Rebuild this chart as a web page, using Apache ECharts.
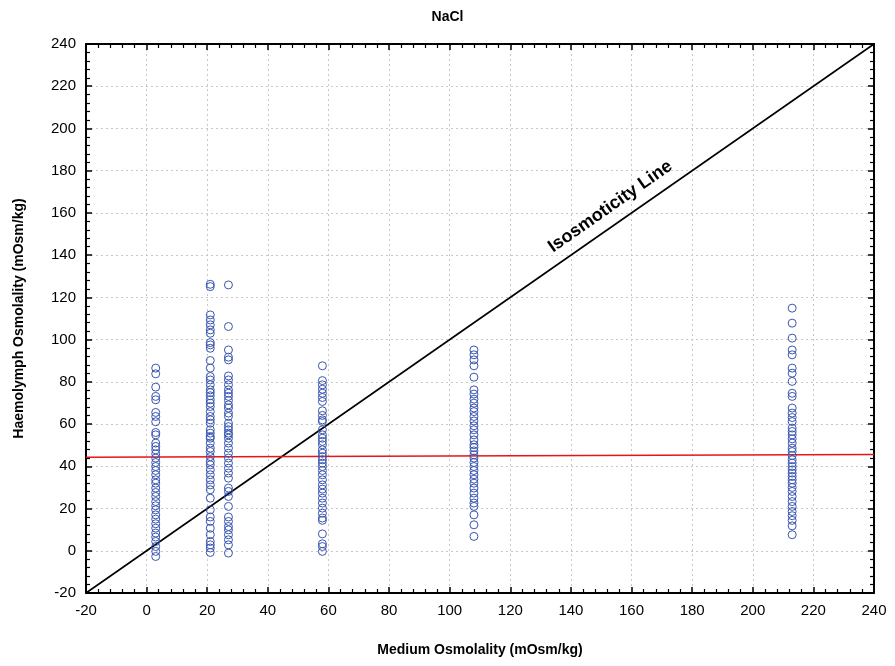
<!DOCTYPE html>
<html>
<head>
<meta charset="utf-8">
<script src="https://cdn.jsdelivr.net/npm/echarts@6/dist/echarts.min.js"></script>
<style>html,body{margin:0;padding:0;background:#fff;}#c{width:895px;height:666px;}</style>
</head>
<body>
<div id="c"></div>
<script>
// Medium osmolality columns (x) and haemolymph values (y)
const mediumX = [3, 21, 27, 58, 108, 213];
const col3 = [86.5, 83.8, 77.5, 73.1, 71.5, 65.5, 63.6, 61.1, 56.0, 54.9, 51.0, 49.4, 47.8, 45.9, 43.9, 41.8, 39.9, 38.0, 36.0, 33.6, 32.0, 29.7, 27.6, 25.7, 23.3, 21.3, 19.4, 17.0, 15.0, 12.8, 10.7, 8.4, 6.5, 4.4, 2.0, -0.3, -2.7];
const col21 = [126.2, 125.1, 111.7, 109.3, 107.0, 104.6, 103.0, 98.6, 97.5, 95.9, 90.1, 86.5, 82.5, 80.9, 78.6, 76.2, 74.9, 73.4, 71.5, 69.9, 68.3, 65.9, 63.6, 62.0, 60.4, 57.3, 55.7, 54.1, 53.3, 51.0, 48.6, 47.0, 44.6, 42.3, 40.7, 38.3, 36.0, 33.6, 31.2, 28.9, 24.9, 19.4, 16.0, 13.9, 10.7, 7.6, 4.4, 2.8, 1.3, -0.8];
const col27 = [125.9, 106.2, 95.1, 91.7, 90.4, 82.8, 80.9, 78.6, 76.2, 74.6, 73.1, 71.2, 69.1, 67.6, 65.2, 63.6, 60.4, 58.8, 57.3, 55.7, 54.9, 53.3, 51.0, 48.6, 46.2, 43.9, 41.5, 39.1, 36.8, 34.4, 29.7, 28.1, 25.7, 21.0, 16.0, 13.9, 11.5, 9.9, 7.6, 5.2, 2.8, -1.1];
const col58 = [87.6, 80.6, 78.6, 76.5, 74.6, 72.6, 70.7, 66.3, 64.1, 62.0, 61.2, 57.3, 54.9, 53.3, 51.8, 50.2, 47.8, 46.2, 44.6, 43.1, 41.5, 39.9, 38.0, 36.0, 33.6, 31.2, 29.2, 27.3, 24.9, 22.6, 20.2, 17.8, 15.5, 14.4, 8.0, 3.3, 2.0, -0.3];
const col108 = [95.1, 92.8, 90.4, 87.6, 82.2, 76.2, 74.2, 71.8, 69.9, 67.6, 65.9, 63.6, 61.5, 59.2, 57.3, 54.9, 52.5, 50.2, 48.9, 47.3, 45.4, 43.9, 41.8, 39.9, 38.0, 36.0, 33.9, 32.0, 29.7, 27.3, 24.9, 22.6, 21.0, 17.0, 12.3, 6.8];
const col213 = [114.9, 107.8, 100.7, 95.1, 92.8, 86.5, 84.1, 80.2, 74.6, 73.1, 67.6, 65.2, 63.1, 61.2, 58.1, 56.5, 54.9, 53.0, 51.0, 48.6, 47.0, 45.1, 43.1, 41.5, 39.9, 38.3, 36.8, 35.2, 33.6, 32.0, 30.0, 28.1, 25.7, 23.3, 21.0, 18.6, 16.6, 14.4, 11.8, 7.6];
const columns = [col3, col21, col27, col58, col108, col213];
const isoLine = [[-20, -20], [240, 240]];
const regLine = [[-20, 44.3], [240, 45.6]];
const isoLabelPos = [[153, 163]];
const isoLabelText = 'Isosmoticity Line';
const xTitle = 'Medium Osmolality (mOsm/kg)';
const yTitle = 'Haemolymph Osmolality (mOsm/kg)';
const chartTitle = 'NaCl';

const pts = [];
columns.forEach((arr, i) => arr.forEach(v => pts.push([mediumX[i], v])));

const FONT = '"Liberation Sans", Arial, sans-serif';
const chart = echarts.init(document.getElementById('c'));

function axisBase(pos, showLabel) {
  return {
    type: 'value', min: -20, max: 240, interval: 20, position: pos,
    axisLine: { show: true, onZero: false, lineStyle: { color: '#000', width: 2 } },
    axisTick: { show: true, inside: true, length: 6, lineStyle: { color: '#000', width: 1.5 } },
    minorTick: { show: true, splitNumber: 5, length: 4, lineStyle: { color: '#000', width: 1.2 } },
    axisLabel: { show: showLabel, color: '#000', fontSize: 15, fontFamily: FONT, margin: 10 },
    splitLine: { show: false },
    minorSplitLine: { show: false }
  };
}

const xBottom = Object.assign(axisBase('bottom', true), {
  name: xTitle, nameLocation: 'middle', nameGap: 50,
  nameTextStyle: { color: '#000', fontSize: 14, fontWeight: 'bold', fontFamily: FONT },
  splitLine: { show: true, lineStyle: { color: '#c8c8c8', type: [2, 3], width: 1 } }
});
const yLeft = Object.assign(axisBase('left', true), {
  name: yTitle, nameLocation: 'middle', nameGap: 60,
  nameTextStyle: { color: '#000', fontSize: 14, fontWeight: 'bold', fontFamily: FONT },
  splitLine: { show: true, lineStyle: { color: '#c8c8c8', type: [2, 3], width: 1 } }
});
const xTop = axisBase('top', false);
const yRight = axisBase('right', false);

chart.setOption({
  animation: false,
  backgroundColor: '#fff',
  title: {
    text: chartTitle, left: 'center', top: 5,
    textStyle: { color: '#000', fontSize: 14, fontWeight: 'bold', fontFamily: FONT }
  },
  grid: { left: 86, right: 21, top: 44, bottom: 73 },
  xAxis: [xBottom, xTop],
  yAxis: [yLeft, yRight],
  series: [
    {
      type: 'line', data: isoLine, xAxisIndex: 0, yAxisIndex: 0,
      symbol: 'none', lineStyle: { color: '#000', width: 1.6 }, z: 3, silent: true
    },
    {
      type: 'line', data: regLine, xAxisIndex: 0, yAxisIndex: 0,
      symbol: 'none', lineStyle: { color: '#e8141a', width: 1.4 }, z: 3, silent: true
    },
    {
      type: 'scatter', data: pts, xAxisIndex: 0, yAxisIndex: 0,
      symbol: 'circle', symbolSize: 8,
      itemStyle: { color: 'rgba(255,255,255,0)', borderColor: '#3a56b0', borderWidth: 1, opacity: 1 }, z: 4
    },
    {
      type: 'scatter', data: isoLabelPos, xAxisIndex: 0, yAxisIndex: 0,
      symbolSize: 0, silent: true, z: 5,
      label: {
        show: true, position: 'inside', rotate: 35,
        formatter: isoLabelText, color: '#000', textBorderWidth: 0, opacity: 1,
        fontSize: 18, fontWeight: 'bold', fontFamily: FONT
      }
    }
  ]
});
</script>
</body>
</html>
